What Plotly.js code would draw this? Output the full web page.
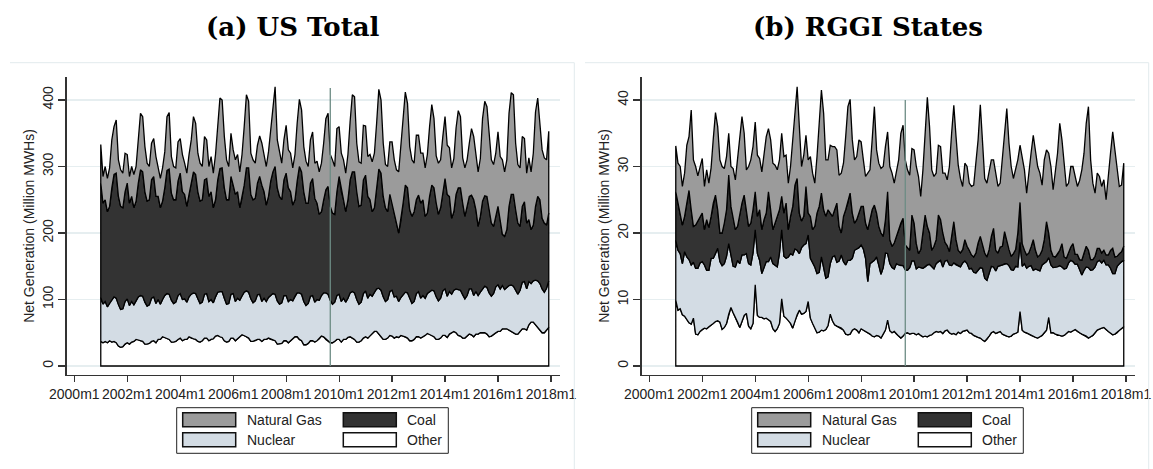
<!DOCTYPE html>
<html><head><meta charset="utf-8">
<script src="https://cdn.plot.ly/plotly-3.0.1.min.js"></script>
<style>html,body{margin:0;padding:0;background:#fff}#chart{width:1153px;height:469px}</style>
</head><body><div id="chart"></div>
<script>
// ---------- DATA ----------
const tickLabels = ["2000m1","2002m1","2004m1","2006m1","2008m1","2010m1","2012m1","2014m1","2016m1","2018m1"];
const tickMonths = [0,24,48,72,96,120,144,168,192,216];   // months since 2000m1
const firstMonth = 12;                                       // 2001m1
const seriesNames = ["Other","Nuclear","Coal","Natural Gas"]; // stacked bottom -> top
const panelTitles = ["(a) US Total","(b) RGGI States"];
const yTitle = "Net Generation (Million MWHs)";
const rggiStartMonth = 116;   // reference line
const usLineTop = 418, rggiLineTop = 40;

// US Total, million MWh, monthly 2001m1..2017m12
const usOther = [
37,35,37,35,38,36,37,35,30,28,29,33,
35,33,36,37,40,40,38,37,33,33,34,37,
38,35,40,40,44,43,41,40,36,36,37,40,
42,38,40,40,44,42,41,40,37,36,38,42,
42,38,40,41,45,46,44,43,38,36,37,42,
42,38,41,44,47,46,44,42,37,37,38,40,
40,37,40,40,42,40,39,38,33,33,34,38,
38,35,38,41,44,44,40,38,32,32,34,38,
38,36,38,41,45,44,40,38,35,35,37,40,
40,36,40,40,43,44,42,40,36,36,38,42,
44,42,46,49,52,52,48,44,40,40,42,46,
45,42,44,43,46,45,44,42,38,38,40,44,
44,42,44,46,49,48,46,44,40,40,42,46,
46,43,48,50,52,50,46,45,42,42,45,48,
47,44,48,48,50,50,50,48,44,45,47,50,
52,52,56,56,56,54,52,50,48,48,52,56,
56,54,62,66,66,62,58,54,50,50,54,58];
const usNuclear = [
66,58,60,54,57,63,67,67,62,57,57,64,
66,58,61,55,58,64,68,68,63,57,58,65,
66,59,60,53,56,63,68,68,63,58,59,66,
67,62,61,56,60,66,69,69,64,58,58,66,
67,59,60,54,59,65,68,69,64,57,57,66,
67,59,61,55,59,65,69,69,64,58,60,67,
68,60,62,57,61,66,70,70,65,60,61,68,
68,62,62,57,61,66,70,70,65,59,60,67,
68,60,62,58,61,66,70,70,64,58,59,66,
68,61,62,56,59,66,70,70,64,57,58,67,
69,60,62,56,59,64,69,70,64,57,58,66,
69,62,61,54,57,62,67,68,63,56,57,65,
68,60,62,56,60,64,68,69,64,58,60,67,
70,62,64,58,62,66,69,69,65,59,61,68,
69,62,64,58,61,66,70,70,66,60,62,69,
70,64,65,59,62,67,70,70,66,60,62,70,
71,62,65,58,62,67,70,70,66,61,63,70];
const usCoal = [
172,152,153,143,145,169,184,188,163,155,152,165,
174,154,158,146,150,171,189,187,166,158,158,178,
181,161,155,145,148,162,185,188,161,156,154,172,
181,162,157,144,154,164,182,179,161,154,154,172,
173,158,162,143,146,169,185,186,166,157,156,177,
163,161,160,139,146,161,185,187,157,155,154,168,
177,175,160,145,152,172,183,192,170,162,155,174,
184,171,162,144,145,168,190,184,165,154,151,170,
176,156,145,129,126,140,155,162,141,137,132,156,
177,165,148,136,148,170,180,182,162,147,146,171,
174,153,142,127,127,152,179,176,151,141,132,146,
134,126,110,103,115,138,161,158,134,131,135,141,
145,143,144,123,121,143,158,155,141,130,136,149,
166,153,143,114,118,142,153,154,138,124,134,139,
141,144,123,104,114,132,136,137,128,110,101,106,
118,104,77,80,87,119,136,138,121,107,96,114,
120,99,93,81,84,111,127,126,106,104,95,102];
const usGas = [
58,40,50,50,58,72,72,80,55,55,52,58,
43,40,45,50,52,65,85,83,68,57,50,55,
57,60,45,44,50,54,81,85,55,50,48,59,
52,56,47,50,60,68,83,77,58,57,50,65,
58,45,53,52,68,80,106,102,77,60,50,65,
53,52,56,54,66,88,110,100,62,60,53,57,
61,63,53,58,67,80,93,120,72,65,55,60,
72,57,58,56,68,87,101,93,68,63,55,65,
70,53,63,64,73,85,107,110,78,80,72,95,
75,58,60,58,68,88,116,113,73,67,63,82,
74,60,68,75,82,97,120,110,80,65,68,79,
89,80,80,92,112,120,140,127,95,85,73,97,
90,75,70,73,88,105,121,104,71,77,72,83,
93,74,73,76,80,100,116,107,68,73,70,80,
100,95,83,82,87,124,142,135,112,95,93,95,
112,95,112,97,105,140,153,150,100,88,88,105,
95,75,93,87,108,142,148,115,103,98,98,123];

// RGGI States, million MWh, monthly 2001m1..2017m12
const rggiOther = [
9.9,8.4,8.6,7.7,7.5,7.0,6.5,6.3,7.2,4.8,4.7,5.2,
5.5,5.7,5.6,5.9,6.2,6.4,6.7,6.8,6.6,5.5,5.8,6.4,
7.8,8.8,8.0,7.2,6.6,5.8,6.7,7.6,7.9,6.0,5.6,6.4,
12.2,7.6,7.3,7.3,7.1,7.2,7.0,6.7,5.6,5.2,5.6,6.4,
10.1,7.5,7.2,6.9,6.4,5.7,6.8,7.7,8.4,7.8,7.9,8.2,
9.7,7.2,6.4,5.6,5.0,5.1,5.4,5.3,5.5,6.1,7.8,6.8,
6.2,6.0,5.8,5.7,5.4,4.8,4.7,4.8,5.4,5.6,5.4,5.0,
5.6,5.4,5.2,5.0,4.8,4.5,4.4,4.6,4.5,4.2,4.8,5.4,
6.9,5.3,5.0,5.2,4.8,4.5,4.2,4.5,4.9,5.0,4.8,4.9,
4.9,4.7,4.9,4.6,4.4,4.5,4.4,4.6,4.7,5.0,5.2,5.1,
5.2,4.9,5.3,5.4,5.0,4.8,4.9,4.7,5.1,4.9,5.2,5.3,
5.4,5.0,4.9,4.6,4.4,4.3,4.2,3.9,3.7,4.0,4.5,5.0,
5.2,4.9,5.0,5.2,4.8,4.6,4.5,4.4,4.5,4.8,4.9,5.1,
8.2,5.4,5.1,5.0,4.8,4.6,4.5,4.3,4.2,4.4,4.6,5.0,
5.4,7.3,5.0,5.0,4.8,4.6,4.6,4.5,4.6,4.9,5.2,5.1,
5.3,5.5,5.2,5.0,4.8,4.6,4.5,4.2,4.4,4.6,5.0,5.4,
5.6,5.7,5.8,5.5,5.2,4.9,4.7,4.8,5.0,5.4,5.6,5.9];
const rggiNuclear = [
9.0,9.0,8.3,7.7,9.7,9.4,9.5,8.9,8.4,9.9,10.0,10.3,
10.2,9.5,8.8,8.5,10.0,9.8,10.2,10.9,9.1,9.6,9.6,10.1,
10.6,7.7,7.0,7.7,9.3,9.6,10.0,9.1,9.0,9.4,9.6,10.6,
8.3,9.3,8.6,6.6,7.6,8.5,8.7,9.7,9.8,9.9,9.3,10.6,
10.4,9.0,9.0,9.5,10.5,11.0,10.8,9.7,8.5,10.0,10.3,10.2,
10.0,9.0,9.2,9.3,8.9,9.0,11.0,9.6,7.7,7.3,7.6,9.6,
10.4,9.6,10.0,11.0,10.3,10.4,11.2,11.1,10.8,11.8,12.2,12.8,
12.6,12.2,11.0,7.7,10.6,11.2,11.5,11.8,10.7,9.6,10.0,11.6,
10.0,10.1,9.8,9.4,10.6,10.7,10.9,10.6,9.6,9.4,10.0,10.9,
10.9,9.9,10.0,10.2,10.3,10.4,10.8,10.7,10.2,9.6,10.2,10.6,
10.7,10.0,10.5,10.5,10.2,10.3,10.6,10.5,10.0,10.0,10.3,10.5,
10.0,9.6,9.8,9.5,9.6,10.1,10.6,10.8,9.5,8.9,9.5,10.0,
9.7,9.4,10.0,9.9,10.4,10.8,10.9,10.7,10.0,9.6,10.1,9.8,
10.4,9.6,10.3,9.7,10.2,10.5,9.9,10.3,10.2,9.9,10.6,10.4,
10.3,9.0,10.2,9.8,10.1,10.3,10.5,10.4,10.0,9.8,10.3,10.8,
10.4,9.8,10.1,9.5,8.9,9.8,10.4,10.6,10.0,9.9,9.9,10.3,
10.3,9.8,10.1,9.7,10.0,9.8,9.2,9.1,10.0,10.0,10.1,10.0];
const rggiCoal = [
7.3,7.1,5.9,5.8,5.3,8.1,10.4,8.3,5.4,6.5,7.1,7.0,
7.3,5.3,7.6,6.4,6.3,8.3,8.8,5.8,4.3,4.9,6.1,7.0,
10.3,7.5,7.5,5.6,5.1,7.6,7.8,9.0,6.6,5.6,6.3,6.5,
5.7,5.6,7.6,6.6,7.3,7.3,10.5,7.1,5.1,6.4,7.6,6.5,
5.0,6.5,8.3,4.1,5.6,7.3,9.6,10.8,6.1,4.0,4.3,8.6,
3.3,6.3,4.9,6.1,9.1,9.9,9.6,8.6,9.3,10.1,7.6,6.1,
6.9,8.9,5.2,3.3,6.8,8.3,8.6,10.1,6.8,4.1,4.4,5.2,
5.8,6.4,5.3,7.8,6.6,7.8,8.3,6.6,5.8,6.2,4.7,5.0,
9.3,3.6,3.2,3.9,4.1,5.3,6.4,7.1,3.7,3.4,2.6,6.9,
5.7,3.8,2.0,2.7,5.3,7.8,5.8,4.7,2.5,3.4,3.6,7.0,
6.1,5.1,2.8,2.2,2.0,4.4,6.2,3.8,2.3,2.1,2.0,3.2,
2.6,2.8,2.0,2.3,3.0,4.1,4.7,3.8,3.8,3.5,3.5,4.5,
5.8,3.1,2.0,2.8,2.8,4.8,3.6,2.4,2.0,2.5,2.5,5.1,
6.0,3.4,2.0,2.0,2.0,2.8,4.6,2.8,2.0,2.4,2.2,3.6,
6.0,3.7,2.2,1.7,1.5,1.9,2.3,3.5,1.8,1.5,1.5,2.0,
2.7,1.5,1.5,1.5,2.2,2.6,3.1,2.6,1.6,1.5,1.6,2.0,
1.8,1.5,1.5,1.5,1.5,2.7,3.8,2.5,1.5,1.5,1.5,2.1];
const rggiGas = [
6.9,6.0,7.2,5.8,6.5,8.7,8.1,15.0,10.0,8.8,6.8,7.5,
8.2,6.5,7.5,6.7,7.3,9.7,12.4,12.5,11.0,10.0,8.2,8.0,
6.3,6.0,7.2,7.5,10.0,12.0,13.0,9.3,6.0,9.0,9.5,9.5,
10.5,9.2,7.7,8.7,10.0,11.5,9.5,10.5,10.0,8.7,7.0,7.5,
9.5,8.5,7.2,7.0,7.5,10.0,10.8,13.8,13.0,8.2,9.2,7.7,
8.0,9.0,8.5,6.5,8.5,12.0,15.5,14.5,8.5,7.5,10.2,10.5,
9.5,8.0,7.7,9.0,8.0,11.0,14.5,14.1,11.0,9.5,9.5,11.0,
9.7,7.0,7.0,8.5,7.5,10.5,14.8,9.5,9.5,9.7,10.5,11.0,
9.0,11.0,11.0,9.0,9.5,10.5,13.5,14.0,12.8,11.7,11.3,10.0,
11.0,11.6,11.6,8.0,9.5,13.3,19.4,16.0,12.1,10.5,10.0,10.5,
11.0,9.0,10.4,9.9,12.8,15.5,17.5,15.5,12.8,11.2,9.5,11.5,
12.0,10.1,10.3,10.8,14.0,15.5,19.8,15.0,11.2,11.1,11.5,11.5,
10.3,11.8,10.0,9.6,13.0,13.8,19.7,16.0,13.5,11.3,12.0,11.0,
8.6,12.6,12.1,9.3,12.5,14.1,15.7,15.1,13.6,12.3,9.8,12.0,
10.8,12.0,12.6,10.0,12.6,15.2,19.1,15.6,14.1,10.8,10.5,12.1,
11.6,11.7,10.2,11.9,13.6,15.0,18.5,21.6,15.0,11.5,9.5,11.3,
10.8,10.0,10.6,8.3,12.3,14.6,17.5,16.1,13.0,10.1,10.0,12.5];

// ---------- STYLE ----------
const W = 1153, H = 469;
const fills = {"Other":"#ffffff","Nuclear":"#d3dce4","Coal":"#333333","Natural Gas":"#9b9b9b"};
const px = x => x / W, py = y => 1 - y / H;
const months = usOther.map((_, i) => firstMonth + i);

function bandTraces(seriesList, xa, ya) {
  let lower = seriesList[0].map(() => 0);
  const out = [];
  seriesList.forEach((s, k) => {
    const upper = lower.map((v, i) => v + s[i]);
    const rx = months.slice().reverse(), rl = lower.slice().reverse();
    out.push({
      type: 'scatter', mode: 'lines', xaxis: xa, yaxis: ya,
      x: months.concat(rx, [months[0]]),
      y: upper.concat(rl, [upper[0]]),
      fill: 'toself', fillcolor: fills[seriesNames[k]],
      line: {color: '#000', width: 1.3}, hoverinfo: 'skip', showlegend: false
    });
    lower = upper;
  });
  return out;
}

const traces = [
  ...bandTraces([usOther, usNuclear, usCoal, usGas], 'x', 'y'),
  ...bandTraces([rggiOther, rggiNuclear, rggiCoal, rggiGas], 'x2', 'y2'),
  {type:'scatter', mode:'lines', x:[rggiStartMonth, rggiStartMonth], y:[0, usLineTop], xaxis:'x', yaxis:'y',
   line:{color:'#6d8c85', width:1.3}, hoverinfo:'skip', showlegend:false},
  {type:'scatter', mode:'lines', x:[rggiStartMonth, rggiStartMonth], y:[0, rggiLineTop], xaxis:'x2', yaxis:'y2',
   line:{color:'#6d8c85', width:1.3}, hoverinfo:'skip', showlegend:false}
];

const font = "Liberation Sans, Arial, sans-serif";
function xAxis(d) {
  return {domain: d, range: [-3.44, 220.1], tickvals: tickMonths, ticktext: tickLabels,
    ticks: 'outside', ticklen: 6, tickwidth: 1.2, tickcolor: '#333', showline: true, linecolor: '#333', linewidth: 1.3,
    showgrid: false, zeroline: false, tickfont: {family: font, size: 14, color: '#222'}, fixedrange: true};
}
function yAxis(range, vals, anchor) {
  return {domain: [py(375), py(77)], range: range, tickvals: vals, anchor: anchor,
    ticks: 'outside', ticklen: 7, tickwidth: 1.2, tickcolor: '#333', tickangle: -90,
    showline: true, linecolor: '#333', linewidth: 1.3, showgrid: true, gridcolor: '#e6eef0', gridwidth: 1.3,
    zeroline: false, tickfont: {family: font, size: 14, color: '#222'},
    title: {text: yTitle, font: {family: font, size: 14, color: '#222'}, standoff: 2}, fixedrange: true};
}

const shapes = [], annotations = [];
// panel frames (top + right edges)
[[10, 574.3], [585, 1148.7]].forEach(([l, r]) => {
  shapes.push({type:'line', xref:'paper', yref:'paper', x0:px(l), x1:px(r), y0:py(62.7), y1:py(62.7), line:{color:'#e2eaed', width:1}});
  shapes.push({type:'line', xref:'paper', yref:'paper', x0:px(r), x1:px(r), y0:py(62.7), y1:py(470), line:{color:'#e2eaed', width:1}});
});
// titles
[[293, panelTitles[0]], [868, panelTitles[1]]].forEach(([cx, t]) => {
  annotations.push({xref:'paper', yref:'paper', x:px(cx), y:py(27), xanchor:'center', yanchor:'middle', showarrow:false,
    text:'<b>' + t + '</b>', font:{family:'DejaVu Serif, serif', size:26, color:'#000'}});
});
// legends (Stata-style boxes)
const legendOrder = [["Natural Gas", 0, 0], ["Coal", 1, 0], ["Nuclear", 0, 1], ["Other", 1, 1]];
[0, 575].forEach(off => {
  shapes.push({type:'rect', xref:'paper', yref:'paper', x0:px(176.7+off), x1:px(448.3+off), y0:py(453.3), y1:py(407.7),
    line:{color:'#222', width:1}, fillcolor:'rgba(0,0,0,0)'});
  legendOrder.forEach(([name, col, row]) => {
    const sx = (col === 0 ? 182.7 : 343.3) + off;
    const sy = 412.7 + row * 20;
    shapes.push({type:'rect', xref:'paper', yref:'paper', x0:px(sx), x1:px(sx+53), y0:py(sy+14), y1:py(sy),
      line:{color:'#111', width:1.5}, fillcolor: fills[name]});
    annotations.push({xref:'paper', yref:'paper', x:px(sx+62), y:py(sy+7), xanchor:'left', yanchor:'middle', showarrow:false,
      text:name, font:{family:font, size:14, color:'#222'}});
  });
});

const layout = {
  width: W, height: H, margin: {l:0, r:0, t:0, b:0}, paper_bgcolor:'#fff', plot_bgcolor:'#fff', showlegend:false,
  xaxis: xAxis([px(66.7), px(560)]),
  yaxis: yAxis([-13.5, 434.6], [0,100,200,300,400], 'x'),
  xaxis2: Object.assign(xAxis([px(641.7), px(1135)]), {anchor:'y2'}),
  yaxis2: yAxis([-1.35, 43.46], [0,10,20,30,40], 'x2'),
  shapes: shapes, annotations: annotations
};
layout.xaxis.anchor = 'y';
Plotly.newPlot('chart', traces, layout, {staticPlot: true, displayModeBar: false});
</script></body></html>
